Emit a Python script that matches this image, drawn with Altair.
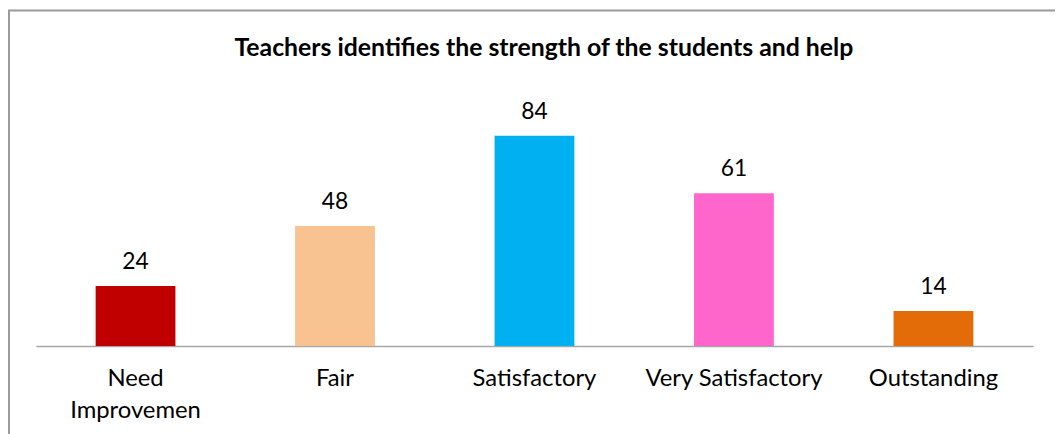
import altair as alt
import pandas as pd

categories = ["Need Improvemen", "Fair", "Satisfactory", "Very Satisfactory", "Outstanding"]
values = [24, 48, 84, 61, 14]
colors = ["#C00000", "#F8C291", "#00B0F0", "#FF66CC", "#E36C09"]
title_text = "Teachers identifies the strength of the students and help"

df = pd.DataFrame({"category": categories, "value": values})

FONT = "Lato"

x = alt.X(
    "category:N",
    sort=categories,
    scale=alt.Scale(paddingInner=0.6, paddingOuter=0.3),
    axis=alt.Axis(
        title=None,
        domainColor="#A6A6A6",
        domainWidth=1.5,
        ticks=False,
        labelAngle=0,
        labelFont=FONT,
        labelFontSize=24,
        labelColor="#000000",
        labelPadding=40,
        labelBaseline="alphabetic",
        labelLineHeight=32,
        labelExpr="datum.label == 'Need Improvemen' ? ['Need', 'Improvemen'] : datum.label",
    ),
)
y = alt.Y("value:Q", scale=alt.Scale(domain=[0, 90]), axis=None)

bars = alt.Chart(df).mark_bar().encode(
    x=x,
    y=y,
    color=alt.Color("category:N", scale=alt.Scale(domain=categories, range=colors), legend=None),
)

labels = alt.Chart(df).mark_text(
    font=FONT, fontSize=23, color="#000000", baseline="alphabetic", dy=-17
).encode(x=x, y=y, text="value:Q")

one = pd.DataFrame({"t": [title_text]})

border = alt.Chart(one).mark_rect(
    fill=None, stroke="#9A9A9A", strokeWidth=2
).encode(
    x=alt.value(-27), x2=alt.value(1100), y=alt.value(-111), y2=alt.value(500)
)

title = alt.Chart(one).mark_text(
    font=FONT, fontSize=25, fontWeight="bold", color="#000000",
    baseline="alphabetic", align="center"
).encode(x=alt.value(512), y=alt.value(-65), text="t:N")

chart = alt.layer(border, bars, labels, title).properties(
    width=1005,
    height=227,
    autosize=alt.AutoSizeParams(type="none"),
    padding={"left": 28, "top": 112, "right": 22, "bottom": 87},
).configure(background="#FFFFFF").configure_view(stroke=None, strokeWidth=0)

chart.save("out.html", embed_options={"renderer": "svg", "actions": False})
